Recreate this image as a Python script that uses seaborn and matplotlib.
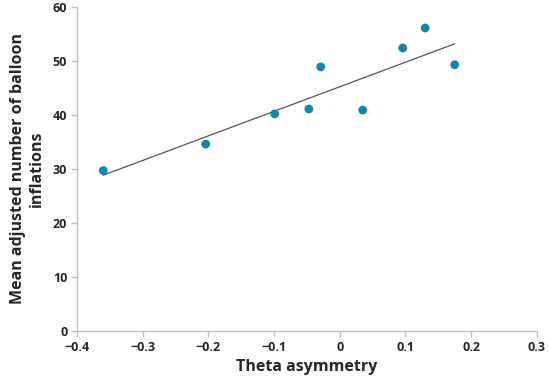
import matplotlib
matplotlib.use('Agg')
import matplotlib.pyplot as plt
import seaborn as sns
import pandas as pd

# Data
theta_asymmetry = [-0.360, -0.204, -0.099, -0.047, -0.029, 0.035, 0.096, 0.130, 0.175]
balloon_inflations = [29.7, 34.6, 40.2, 41.1, 48.9, 40.9, 52.4, 56.1, 49.3]
x_ticks = [-0.4, -0.3, -0.2, -0.1, 0, 0.1, 0.2, 0.3]
x_tick_labels = ['\u22120.4', '\u22120.3', '\u22120.2', '\u22120.1', '0', '0.1', '0.2', '0.3']
y_ticks = [0, 10, 20, 30, 40, 50, 60]

df = pd.DataFrame({'theta': theta_asymmetry, 'inflations': balloon_inflations})

sns.set_style('white')
plt.rcParams['font.family'] = ['Open Sans', 'DejaVu Sans']

fig = plt.figure(figsize=(5.5, 3.86), dpi=100)
ax = fig.add_axes([0.14, 0.1425, 0.836, 0.8395])

sns.regplot(data=df, x='theta', y='inflations', ax=ax, ci=None,
            scatter_kws={'s': 40, 'color': '#1786a6', 'edgecolor': 'none', 'alpha': 1, 'zorder': 3},
            line_kws={'color': '#555555', 'lw': 0.9, 'zorder': 2})

ax.set_xlim(-0.4, 0.3)
ax.set_ylim(0, 60)
ax.set_xticks(x_ticks)
ax.set_xticklabels(x_tick_labels)
ax.set_yticks(y_ticks)

for lbl in ax.get_xticklabels() + ax.get_yticklabels():
    lbl.set_fontweight('bold')
    lbl.set_fontsize(9)

ax.set_xlabel('Theta asymmetry', fontsize=11.5, fontweight='bold', labelpad=4)
ax.set_ylabel('Mean adjusted number of balloon\ninflations', fontsize=11.5,
              fontweight='bold', labelpad=6)

for side in ['top', 'right']:
    ax.spines[side].set_visible(False)
for side in ['left', 'bottom']:
    ax.spines[side].set_color('#bfbfbf')
    ax.spines[side].set_linewidth(1)
ax.tick_params(axis='both', direction='out', length=4, width=1, color='#bfbfbf', pad=3)
ax.tick_params(axis='x', bottom=True)
ax.tick_params(axis='y', left=True)

fig.savefig('out.png', dpi=100)
